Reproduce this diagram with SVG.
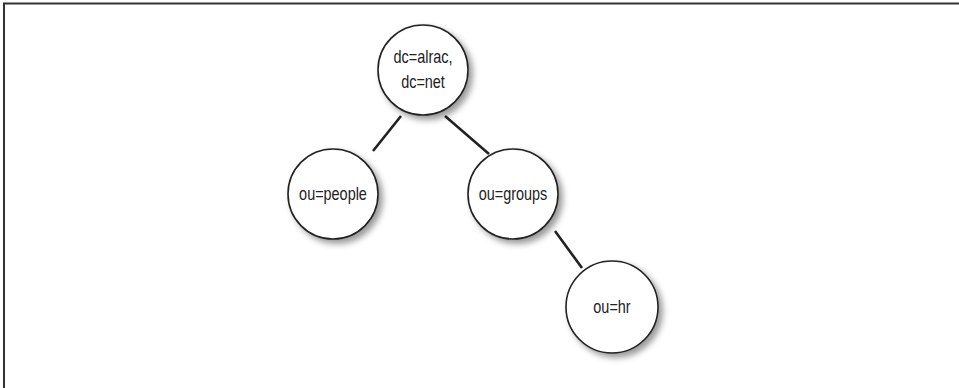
<svg xmlns="http://www.w3.org/2000/svg" width="959" height="388" viewBox="0 0 959 388">
<defs>
<filter id="sh" x="-30%" y="-30%" width="170%" height="170%">
<feDropShadow dx="4" dy="4" stdDeviation="3" flood-color="#000" flood-opacity="0.4"/>
</filter>
<style>
.node circle{fill:#fff;stroke:#222;stroke-width:1.6;filter:url(#sh)}
.node text{font-family:"Liberation Sans",Arial,sans-serif;font-size:18.5px;fill:#222;text-anchor:middle}
.edge{stroke:#222;stroke-width:2.6;fill:none}
</style>
</defs>
<rect width="959" height="388" fill="#fff"/>
<path d="M4,388 V3.5 H959" fill="none" stroke="#333" stroke-width="2"/>
<g id="connectors">
<line class="edge" x1="401" y1="116" x2="373" y2="151"/>
<line class="edge" x1="445" y1="116" x2="489" y2="154"/>
<line class="edge" x1="555" y1="231" x2="582" y2="268"/>
</g>
<g id="n-root" class="node">
<circle cx="423" cy="70" r="45"/>
<text transform="translate(423,63) scale(0.78,1)">dc=alrac,</text>
<text transform="translate(423,88) scale(0.78,1)">dc=net</text>
</g>
<g id="n-people" class="node">
<circle cx="333" cy="194" r="45"/>
<text transform="translate(333,200) scale(0.78,1)">ou=people</text>
</g>
<g id="n-groups" class="node">
<circle cx="513" cy="194" r="45"/>
<text transform="translate(513,200) scale(0.78,1)">ou=groups</text>
</g>
<g id="n-hr" class="node">
<circle cx="612" cy="307" r="46"/>
<text transform="translate(612,313) scale(0.78,1)">ou=hr</text>
</g>
</svg>
